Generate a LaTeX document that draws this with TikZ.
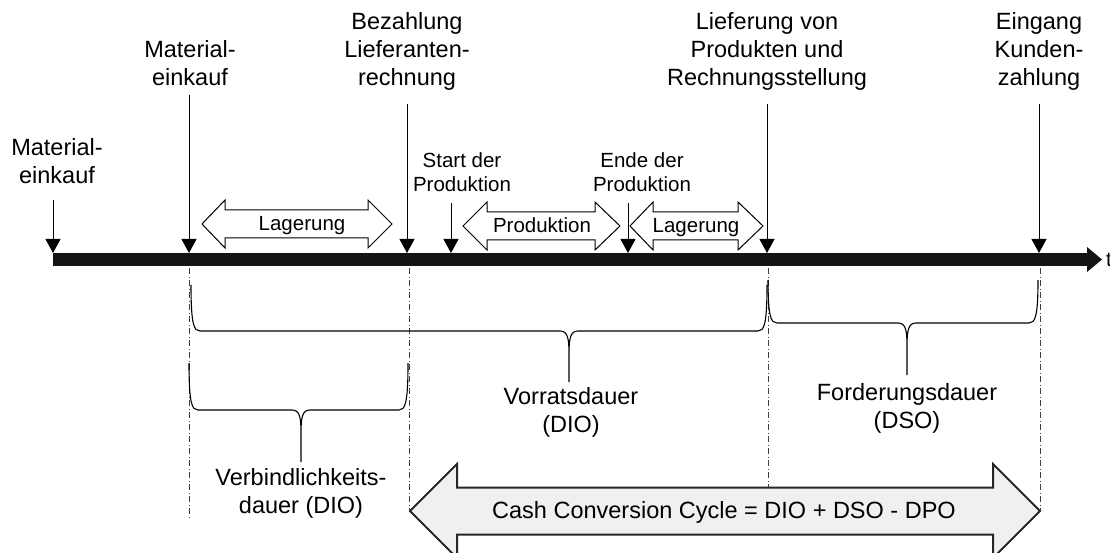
\documentclass[tikz,border=0pt]{standalone}
\usepackage{fontspec}
\setmainfont{Liberation Sans}
\usetikzlibrary{arrows.meta}
\tikzset{
  lbl/.style={font=\fontsize{23.5}{28}\selectfont, align=center, inner sep=0pt, anchor=base},
  slbl/.style={font=\fontsize{20.5}{24}\selectfont, align=center, inner sep=0pt, anchor=base},
  alb/.style={font=\fontsize{20.5}{24}\selectfont, inner sep=0pt, anchor=base},
  clb/.style={font=\fontsize{23.5}{28}\selectfont, inner sep=0pt, anchor=base},
  darrow/.style={line width=1pt, -{Triangle[length=14pt,width=15pt]}},
  dashdot/.style={line width=0.8pt, black!75, dash pattern=on 6pt off 2.5pt on 1pt off 2.5pt},
  bracepath/.style={line width=1.1pt, line join=round},
  hollow/.style={draw=black, fill=white, line width=1pt, line join=miter},
  bigarrow/.style={draw=black!85, fill=black!6, line width=2pt, line join=miter},
}
\newcommand\mybr[6]{% x0 x1 xm ytop yh ytip
  \draw[bracepath] (#1,#4) .. controls (#1,#5-6) and (#1+3,#5) .. (#1+9,#5) -- (#3-9,#5)
     .. controls (#3-1,#5) and (#3,#5+8) .. (#3,#5+24) -- (#3,#6)
     (#3,#5+24) .. controls (#3,#5+8) and (#3+1,#5) .. (#3+9,#5) -- (#2-9,#5)
     .. controls (#2-3,#5) and (#2,#5-6) .. (#2,#4);}
\newcommand\dblarr[8]{% style xl xbl xbr xr yc sh hh
  \draw[#1] (#2,#6) -- (#3,#6-#8) -- (#3,#6-#7) -- (#4,#6-#7) -- (#4,#6-#8) -- (#5,#6)
     -- (#4,#6+#8) -- (#4,#6+#7) -- (#3,#6+#7) -- (#3,#6+#8) -- cycle;}
\begin{document}
\begin{tikzpicture}[x=1pt,y=-1pt]
\useasboundingbox (0,0) rectangle (1110,553);

% timeline bar
\fill[black!92] (53,253) rectangle (1089,266);
\fill[black!92] (1087,247) -- (1102,259.5) -- (1087,272) -- cycle;
\node[alb, anchor=base west] (t) at (1106,266) {t};

% top labels (base = baseline of last line)
\node[lbl] (mat1) at (57,184) {Material-\\einkauf};
\node[lbl] (mat2) at (190,86) {Material-\\einkauf};
\node[lbl] (bez) at (407,86) {Bezahlung\\Lieferanten-\\rechnung};
\node[lbl] (lief) at (767,86) {Lieferung von\\Produkten und\\Rechnungsstellung};
\node[lbl] (eing) at (1039,86) {Eingang\\Kunden-\\zahlung};
\node[slbl] (start) at (462,192) {Start der\\Produktion};
\node[slbl] (ende) at (642,192) {Ende der\\Produktion};

% arrow coordinates
\coordinate (a1s) at (53,200);   \coordinate (a1e) at (53,253);
\coordinate (a2s) at (189,95);   \coordinate (a2e) at (189,253);
\coordinate (a3s) at (407,104);  \coordinate (a3e) at (407,253);
\coordinate (a4s) at (451,203);  \coordinate (a4e) at (451,253);
\coordinate (a5s) at (628,203);  \coordinate (a5e) at (628,253);
\coordinate (a6s) at (767,104);  \coordinate (a6e) at (767,253);
\coordinate (a7s) at (1039,104); \coordinate (a7e) at (1039,253);
\foreach \i in {1,...,7}{\draw[darrow] (a\i s) -- (a\i e);}

% dash-dot lines
\coordinate (d1s) at (189,268); \coordinate (d1e) at (189,517);
\coordinate (d2s) at (409,268); \coordinate (d2e) at (409,510);
\coordinate (d3s) at (768,268); \coordinate (d3e) at (768,487);
\coordinate (d4s) at (1040,268); \coordinate (d4e) at (1040,510);
\foreach \i in {1,...,4}{\draw[dashdot] (d\i s) -- (d\i e);}

% hollow double arrows
\dblarr{hollow}{202}{225}{368}{392}{224}{14}{24}
\dblarr{hollow}{463}{487}{595}{620}{226}{14}{24}
\dblarr{hollow}{630}{653}{738}{763}{226}{14}{24}
\node[alb] (lag1) at (302,231) {Lagerung};
\node[alb] (prod) at (542,233) {Produktion};
\node[alb] (lag2) at (696,233) {Lagerung};

% braces
\mybr{191}{767}{569}{285}{331}{382}
\mybr{768}{1038}{907}{280}{323}{375}
\mybr{189}{408}{301}{363}{410}{462}
\node[lbl] (vorr) at (571,432) {Vorratsdauer\\(DIO)};
\node[lbl] (ford) at (907,428) {Forderungsdauer\\(DSO)};
\node[lbl] (verb) at (301,513) {Verbindlichkeits-\\dauer (DIO)};

% big double arrow
\dblarr{bigarrow}{410}{457}{993}{1040}{511}{23.5}{47}
\node[clb] (ccc) at (724,518) {Cash Conversion Cycle = DIO + DSO - DPO};
\end{tikzpicture}
\end{document}
